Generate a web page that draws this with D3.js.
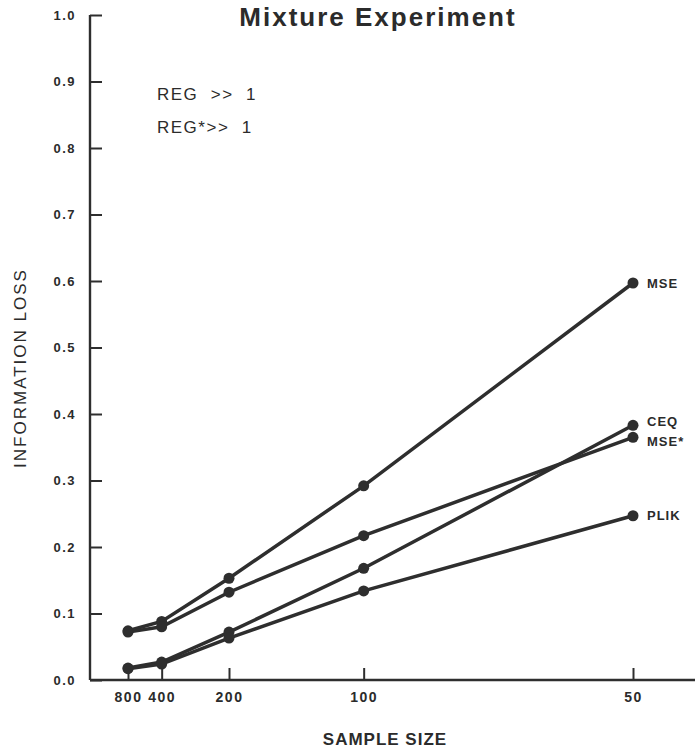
<!DOCTYPE html>
<html>
<head>
<meta charset="utf-8">
<title>Mixture Experiment</title>
<script src="https://d3js.org/d3.v7.min.js"></script>
<style>
  body { margin: 0; background: #fff; }
  text { font-family: "Liberation Sans", Arial, sans-serif; fill: #2b2b2b; }
</style>
</head>
<body>
<script>
  var sampleSizes = [800, 400, 200, 100, 50];
  var yTicks = [0, 0.1, 0.2, 0.3, 0.4, 0.5, 0.6, 0.7, 0.8, 0.9, 1.0];
  var seriesNames = ["MSE", "CEQ", "MSE*", "PLIK"];
  var mse     = [0.074, 0.088, 0.153, 0.292, 0.597];
  var ceq     = [0.018, 0.027, 0.072, 0.168, 0.383];
  var mseStar = [0.072, 0.080, 0.132, 0.217, 0.365];
  var plik    = [0.017, 0.024, 0.063, 0.134, 0.247];
  var seriesValues = [mse, ceq, mseStar, plik];

  var width = 695, height = 750;
  var ink = "#2e2e2e";

  var svg = d3.select("body").append("svg").attr("width", width).attr("height", height);

  // x is spaced by 1/n
  var xScale = d3.scaleLinear()
    .domain([1 / 800, 1 / 50])
    .range([128, 633]);
  var yScale = d3.scaleLinear()
    .domain([0, 1])
    .range([680, 15]);
  var axisX0 = 90;

  // axis lines
  svg.append("line")
    .attr("x1", axisX0).attr("x2", axisX0)
    .attr("y1", yScale(0)).attr("y2", yScale(1))
    .attr("stroke", ink).attr("stroke-width", 2.4);
  svg.append("line")
    .attr("x1", axisX0).attr("x2", width)
    .attr("y1", yScale(0)).attr("y2", yScale(0))
    .attr("stroke", ink).attr("stroke-width", 2.4);

  var axisY = d3.axisLeft(yScale)
    .tickValues(yTicks)
    .tickSize(-12)
    .tickPadding(14)
    .tickFormat(d3.format(".1f"));
  var gy = svg.append("g")
    .attr("transform", "translate(" + axisX0 + ",0)")
    .call(axisY);
  gy.select(".domain").remove();
  gy.selectAll("line").attr("stroke", ink).attr("stroke-width", 2);
  gy.selectAll("text")
    .attr("font-size", 13).attr("font-weight", "bold").attr("letter-spacing", 1.5)
    .attr("font-family", "Liberation Sans, Arial, sans-serif")
    .attr("fill", "#333");

  var axisX = d3.axisBottom(xScale)
    .tickValues(sampleSizes.map(function(n) { return 1 / n; }))
    .tickSize(-12)
    .tickPadding(12)
    .tickFormat(function(d) { return Math.round(1 / d); });
  var gx = svg.append("g")
    .attr("transform", "translate(0," + yScale(0) + ")")
    .call(axisX);
  gx.select(".domain").remove();
  gx.selectAll("line").attr("stroke", ink).attr("stroke-width", 2);
  gx.selectAll("text")
    .attr("font-size", 14).attr("font-weight", "bold").attr("letter-spacing", 1.5)
    .attr("font-family", "Liberation Sans, Arial, sans-serif")
    .attr("fill", "#333");

  // lines and points
  var line = d3.line()
    .x(function(d, i) { return xScale(1 / sampleSizes[i]); })
    .y(function(d) { return yScale(d); });

  svg.selectAll("path.series")
    .data(seriesValues)
    .enter()
    .append("path")
    .attr("class", "series")
    .attr("d", line)
    .attr("fill", "none")
    .attr("stroke", ink)
    .attr("stroke-width", 3.5);

  seriesValues.forEach(function(vals) {
    svg.append("g").selectAll("circle")
      .data(vals)
      .enter()
      .append("circle")
      .attr("cx", function(d, i) { return xScale(1 / sampleSizes[i]); })
      .attr("cy", function(d) { return yScale(d); })
      .attr("r", 5.5)
      .attr("fill", ink);
  });

  // end labels
  var labelDy = [0, -4, 4, 0];
  svg.selectAll("text.endlabel")
    .data(seriesNames)
    .enter()
    .append("text")
    .attr("class", "endlabel")
    .attr("x", xScale(1 / 50) + 14)
    .attr("y", function(d, i) { return yScale(seriesValues[i][4]) + labelDy[i]; })
    .attr("dy", "0.35em")
    .attr("font-size", 13)
    .attr("font-weight", "bold")
    .attr("letter-spacing", 1)
    .text(function(d) { return d; });

  // title
  svg.append("text")
    .attr("x", 378).attr("y", 26)
    .attr("text-anchor", "middle")
    .attr("font-size", 26).attr("font-weight", "bold").attr("letter-spacing", 2)
    .text("Mixture Experiment");

  // annotations
  svg.append("text")
    .attr("x", 157).attr("y", 100)
    .attr("font-size", 17).attr("letter-spacing", 1.5)
    .attr("xml:space", "preserve")
    .text("REG  >>  1");
  svg.append("text")
    .attr("x", 157).attr("y", 133)
    .attr("font-size", 17).attr("letter-spacing", 1.5)
    .attr("xml:space", "preserve")
    .text("REG*>>  1");

  // axis titles
  svg.append("text")
    .attr("transform", "translate(26,368) rotate(-90)")
    .attr("text-anchor", "middle")
    .attr("font-size", 17).attr("letter-spacing", 2)
    .attr("fill", "#444")
    .text("INFORMATION LOSS");
  svg.append("text")
    .attr("x", 385).attr("y", 745)
    .attr("text-anchor", "middle")
    .attr("font-size", 17).attr("font-weight", "bold").attr("letter-spacing", 1)
    .text("SAMPLE SIZE");
</script>
</body>
</html>
